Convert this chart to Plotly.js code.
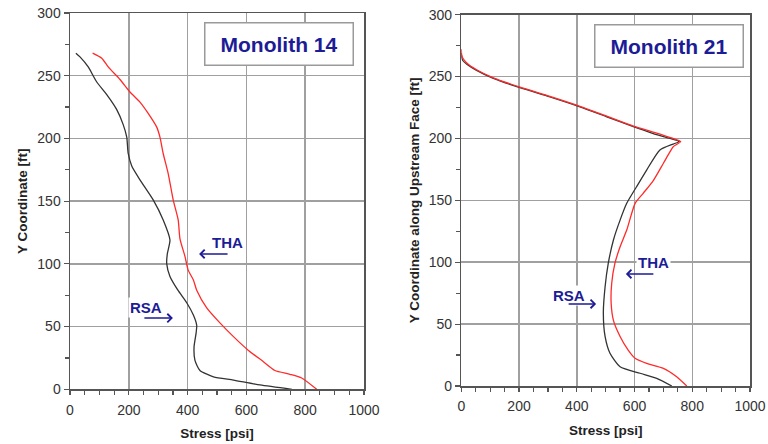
<!DOCTYPE html>
<html>
<head>
<meta charset="utf-8">
<script src="https://cdn.plot.ly/plotly-3.0.1.min.js"></script>
<style>html,body{margin:0;padding:0;background:#fff;}#chart{width:768px;height:444px;}</style>
</head>
<body>
<div id="chart"></div>
<script>
// Monolith 14
const rsa14_x = [20, 34, 62, 91, 125, 159, 181, 193, 198, 210, 238, 283, 317, 340, 331, 329, 340, 367, 397, 420, 431, 429, 422, 425, 442, 488, 556, 646, 755];
const rsa14_y = [268, 265, 257, 245, 235, 223, 211, 201, 188, 178, 167, 151, 135, 119, 108, 100, 90, 79, 69, 59, 51, 45, 34, 23, 15, 10, 7.4, 3.5, 0];
const tha14_x = [77, 108, 130, 170, 204, 238, 266, 295, 306, 317, 334, 351, 368, 374, 391, 402, 420, 431, 465, 510, 556, 607, 658, 697, 748, 788, 839];
const tha14_y = [268, 264, 257, 247, 237, 229, 220, 209, 201, 188, 172, 151, 135, 120, 106, 95, 87, 79, 65, 53, 42, 31, 22, 15, 12, 9, 0];
// Monolith 21
const rsa21_x = [0, 1, 5, 19, 53, 111, 203, 307, 411, 504, 596, 665, 723, 755, 734, 688, 642, 607, 573, 550, 527, 509, 498, 492, 498, 515, 550, 619, 677, 729];
const rsa21_y = [269, 266, 263, 260, 255, 248.5, 241, 233.5, 225.5, 217.5, 209.5, 204, 200, 197.5, 195.5, 190.7, 174.5, 161, 147.6, 134, 118, 99, 80, 59, 40, 26.4, 15.6, 10.3, 6.2, 0];
const tha21_x = [0, 1, 5, 19, 53, 111, 203, 307, 411, 504, 596, 668, 728, 760, 734, 723, 700, 665, 630, 602, 573, 550, 532, 521, 519, 527, 550, 578, 602, 642, 700, 746, 781];
const tha21_y = [272, 268, 265, 261, 255.5, 249, 241.5, 234, 226, 218, 210, 205, 200.5, 197.5, 193.3, 189.3, 180, 166, 155.7, 147.6, 126, 112.5, 99, 83, 67, 53, 40, 29, 22.4, 18.3, 14.3, 7.5, 0];

const panelTitles = ["Monolith 14", "Monolith 21"];
const yTitles = ["Y Coordinate [ft]", "Y Coordinate along Upstream Face [ft]"];
const xTitle = "Stress [psi]";
const seriesNames = ["RSA", "THA"];

const FONT = "Liberation Sans, Arial, sans-serif";
const NAVY = "#1c1c96";

function line(x, y, color, xa, ya, name) {
  return {x: x, y: y, type: 'scatter', mode: 'lines', name: name, xaxis: xa, yaxis: ya,
    line: {color: color, width: 1.3, shape: 'spline', smoothing: 0.6}, showlegend: false, hoverinfo: 'skip'};
}

const traces = [
  line(rsa14_x, rsa14_y, '#333333', 'x', 'y', seriesNames[0]),
  line(tha14_x, tha14_y, '#ff2a2a', 'x', 'y', seriesNames[1]),
  line(rsa21_x, rsa21_y, '#333333', 'x2', 'y2', seriesNames[0]),
  line(tha21_x, tha21_y, '#ff2a2a', 'x2', 'y2', seriesNames[1])
];

function xax(domain, anchor) {
  return {domain: domain, anchor: anchor, range: [0, 1000], dtick: 200, tick0: 0,
    showline: true, mirror: true, linecolor: '#555', linewidth: 1.5,
    showgrid: true, gridcolor: '#a0a0a0', gridwidth: 1.5, zeroline: false,
    ticks: 'outside', ticklen: 4, tickcolor: '#555', tickwidth: 1.2, ticklabelstandoff: 3,
    minor: {dtick: 50, ticks: 'outside', ticklen: 4, tickcolor: '#555', tickwidth: 1.2, showgrid: false},
    tickfont: {family: FONT, size: 14, color: '#333'},
    title: {text: '<b>' + xTitle + '</b>', font: {family: FONT, size: 13.5, color: '#222'}, standoff: 12}};
}
function yax(domain, anchor, title) {
  return {domain: domain, anchor: anchor, range: [0, 300], dtick: 50, tick0: 0,
    showline: true, mirror: true, linecolor: '#555', linewidth: 1.5,
    showgrid: true, gridcolor: '#a0a0a0', gridwidth: 1.5, zeroline: false,
    ticks: 'outside', ticklen: 5, tickcolor: '#555', tickwidth: 1.2,
    minor: {dtick: 25, ticks: 'outside', ticklen: 4, tickcolor: '#555', tickwidth: 1.2, showgrid: false},
    tickfont: {family: FONT, size: 14, color: '#333'},
    title: {text: '<b>' + title + '</b>', font: {family: FONT, size: 13.5, color: '#222'}, standoff: 6}};
}

function label(text, xref, yref, x, y) {
  return {text: '<b>' + text + '</b>', xref: xref, yref: yref, x: x, y: y, showarrow: false,
    xanchor: 'center', yanchor: 'middle', bgcolor: '#fff', borderpad: 1,
    font: {family: FONT, size: 15, color: NAVY}};
}
function arrow(xref, yref, x, y, ax) {
  return {text: '', xref: xref, yref: yref, x: x, y: y, ax: ax, ay: 0, axref: 'pixel', ayref: 'pixel',
    showarrow: true, arrowhead: 4, arrowsize: 1.1, arrowwidth: 1.5, arrowcolor: NAVY};
}
function box(text, xref, yref, x, y) {
  return {text: '<b>' + text + '</b>', xref: xref, yref: yref, x: x, y: y, showarrow: false,
    xanchor: 'center', yanchor: 'middle', width: 145, height: 39, borderpad: 1,
    bgcolor: '#fff', bordercolor: '#9a9a9a', borderwidth: 1.5,
    font: {family: FONT, size: 21, color: NAVY}};
}

const layout = {
  width: 768, height: 444,
  margin: {l: 0, r: 0, t: 0, b: 0},
  paper_bgcolor: '#fff', plot_bgcolor: '#fff',
  xaxis: xax([70/768, 364/768], 'y'),
  yaxis: yax([54.7/444, 431/444], 'x', yTitles[0]),
  xaxis2: xax([461.3/768, 750/768], 'y2'),
  yaxis2: yax([58/444, 429.3/444], 'x2', yTitles[1]),
  annotations: [
    box(panelTitles[0], 'x', 'y', 712, 275),
    box(panelTitles[1], 'x2', 'y2', 718, 275),
    label('THA', 'x', 'y', 537, 116.7),
    arrow('x', 'y', 439, 107.9, 30),
    label('RSA', 'x', 'y', 257, 65.6),
    arrow('x', 'y', 350, 56.8, -30),
    label('THA', 'x2', 'y2', 667, 99.4),
    arrow('x2', 'y2', 570, 90.5, 29),
    label('RSA', 'x2', 'y2', 373, 73.5),
    arrow('x2', 'y2', 467, 66.3, -29)
  ]
};

Plotly.newPlot('chart', traces, layout, {staticPlot: true, displayModeBar: false});
</script>
</body>
</html>
